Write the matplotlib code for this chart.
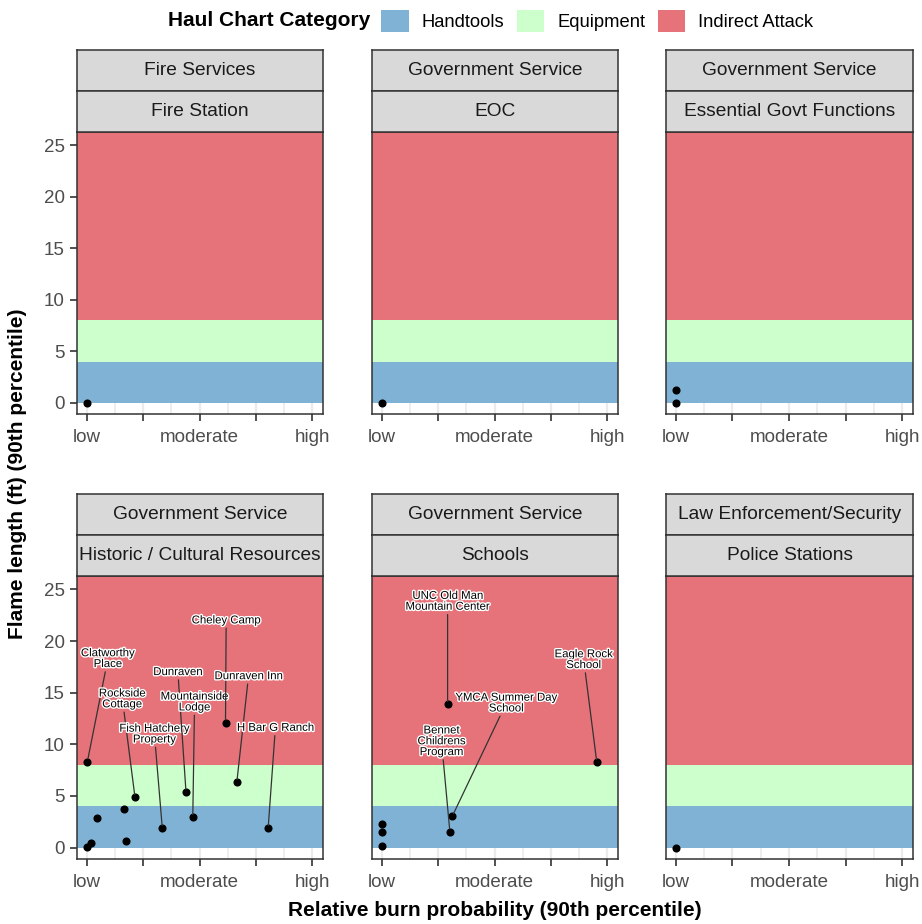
import numpy as np
import matplotlib.pyplot as plt
import matplotlib.patheffects as pe
from matplotlib.patches import Patch

plt.rcParams['font.family'] = ['Liberation Sans', 'DejaVu Sans']

#%% data
band_names = ['Handtools', 'Equipment', 'Indirect Attack']
band_colors = ['#7FB2D5', '#CCFFCC', '#E6737A']
band_lo = [0, 4, 8]
band_hi = [4, 8, 40]

x_breaks = [0, 0.25, 0.5, 0.75, 1]
x_labels = ['low', '', 'moderate', '', 'high']
y_breaks = [0, 5, 10, 15, 20, 25]

strip_top = ['Fire Services', 'Government Service', 'Government Service',
             'Government Service', 'Government Service', 'Law Enforcement/Security']
strip_bottom = ['Fire Station', 'EOC', 'Essential Govt Functions',
                'Historic / Cultural Resources', 'Schools', 'Police Stations']

# points per panel
burn_fire = [0]
flame_fire = [0]
burn_eoc = [0]
flame_eoc = [0]
burn_govt = [0, 0]
flame_govt = [1.2, 0]
burn_hist = [0.003, 0.214, 0.164, 0.046, 0.173, 0.0, 0.018, 0.335, 0.44, 0.47, 0.615, 0.665, 0.804]
flame_hist = [8.33, 4.86, 3.7, 2.85, 0.68, 0.1, 0.46, 1.88, 5.38, 2.92, 12.09, 6.32, 1.88]
burn_school = [0.292, 0.953, 0.313, 0.302, 0, 0, 0]
flame_school = [13.88, 8.27, 3.05, 1.56, 2.27, 1.52, 0.13]
burn_police = [0]
flame_police = [0]

# labels: name, point index, label x, label y
hist_names = ['Clatworthy\nPlace', 'Rockside\nCottage', 'Fish Hatchery\nProperty', 'Dunraven',
              'Mountainside\nLodge', 'Cheley Camp', 'Dunraven Inn', 'H Bar G Ranch']
hist_idx = [0, 1, 7, 8, 9, 10, 11, 12]
hist_lx = [0.094, 0.158, 0.30, 0.404, 0.478, 0.618, 0.717, 0.836]
hist_ly = [18.3, 14.4, 11.0, 17.0, 14.1, 22.0, 16.6, 11.6]

school_names = ['UNC Old Man\nMountain Center', 'Eagle Rock\nSchool', 'YMCA Summer Day\nSchool',
                'Bennet\nChildrens\nProgram']
school_idx = [0, 1, 2, 3]
school_lx = [0.292, 0.895, 0.552, 0.265]
school_ly = [23.85, 18.2, 14.0, 10.3]

panels = [
    (burn_fire, flame_fire, [], [], [], []),
    (burn_eoc, flame_eoc, [], [], [], []),
    (burn_govt, flame_govt, [], [], [], []),
    (burn_hist, flame_hist, hist_names, hist_idx, hist_lx, hist_ly),
    (burn_school, flame_school, school_names, school_idx, school_lx, school_ly),
    (burn_police, flame_police, [], [], [], []),
]

#%% figure
W, H = 922, 924
fig = plt.figure(figsize=(W / 100, H / 100), dpi=100)

def fr(x0, y0, x1, y1):
    return [x0 / W, 1 - y1 / H, (x1 - x0) / W, (y1 - y0) / H]

col_x = [(77, 323), (372, 618), (666, 913)]
row_y = [(50, 91, 132, 414), (494, 535, 576, 859)]
dark = '#333333'

for k, (bx, fy, names, idx, lx, ly) in enumerate(panels):
    r, c = divmod(k, 3)
    x0, x1 = col_x[c]
    s0, s1, p0, p1 = row_y[r]
    ax = fig.add_axes(fr(x0, p0, x1, p1))
    ax.set_xlim(-0.043, 1.047)
    ax.set_ylim(-1.1, 26.3)
    ax.set_facecolor('white')
    for lo, hi, col in zip(band_lo, band_hi, band_colors):
        ax.axhspan(lo, hi, color=col, lw=0, zorder=1)
    ax.set_xticks(x_breaks)
    ax.set_xticklabels(x_labels)
    ax.set_xticks([0.125, 0.375, 0.625, 0.875], minor=True)
    ax.grid(True, which='both', axis='x', color='#EBEBEB', lw=1.2, zorder=0)
    ax.grid(True, which='major', axis='x', color='#EBEBEB', lw=1.6, zorder=0)
    ax.set_axisbelow(True)
    ax.tick_params(axis='x', which='minor', length=0)
    ax.tick_params(axis='both', which='major', length=5, width=1.2, color=dark,
                   labelsize=13.5, labelcolor='#4D4D4D', pad=4)
    ax.tick_params(axis='x', which='major', pad=6)
    ax.set_yticks(y_breaks)
    if c != 0:
        ax.tick_params(axis='y', left=False, labelleft=False)
    for sp in ax.spines.values():
        sp.set_color(dark)
        sp.set_linewidth(1.1)
        sp.set_zorder(5)
    ax.scatter(bx, fy, s=34, color='black', zorder=4, linewidths=0)
    for name, i, tx, ty in zip(names, idx, lx, ly):
        ax.annotate(name, xy=(bx[i], fy[i]), xytext=(tx, ty), ha='center', va='center',
                    fontsize=8.2, color='black', linespacing=1.1, zorder=6,
                    path_effects=[pe.withStroke(linewidth=2, foreground='white')],
                    arrowprops=dict(arrowstyle='-', color='#333333', lw=0.9,
                                    shrinkA=0, shrinkB=2))
    # strips
    for (t0, t1), txt in zip([(s0, s1), (s1, p0)], [strip_top[k], strip_bottom[k]]):
        sa = fig.add_axes(fr(x0, t0, x1, t1))
        sa.set_facecolor('#D9D9D9')
        sa.set_xticks([])
        sa.set_yticks([])
        for sp in sa.spines.values():
            sp.set_color(dark)
            sp.set_linewidth(1.1)
        sa.text(0.5, 0.5, txt, ha='center', va='center', fontsize=13.8,
                color='#1A1A1A', transform=sa.transAxes)

fig.text(495 / W, 1 - 911 / H, 'Relative burn probability (90th percentile)',
         ha='center', va='center', fontsize=15, fontweight='bold')
fig.text(18 / W, 1 - 474 / H, 'Flame length (ft) (90th percentile)',
         ha='center', va='center', rotation=90, fontsize=15, fontweight='bold')

fig.text(370 / W, 1 - 21 / H, 'Haul Chart Category', ha='right', va='center',
         fontsize=15, fontweight='bold')
handles = [Patch(facecolor=c, edgecolor='none', label=n) for n, c in zip(band_names, band_colors)]
fig.legend(handles=handles, ncol=3, frameon=False, loc='center left',
           bbox_to_anchor=(381 / W, 1 - 21 / H), borderpad=0, borderaxespad=0,
           handlelength=1.5, handleheight=1.45, handletextpad=0.7, columnspacing=0.7,
           prop={'size': 13.2})

fig.savefig('out.png', dpi=100)
